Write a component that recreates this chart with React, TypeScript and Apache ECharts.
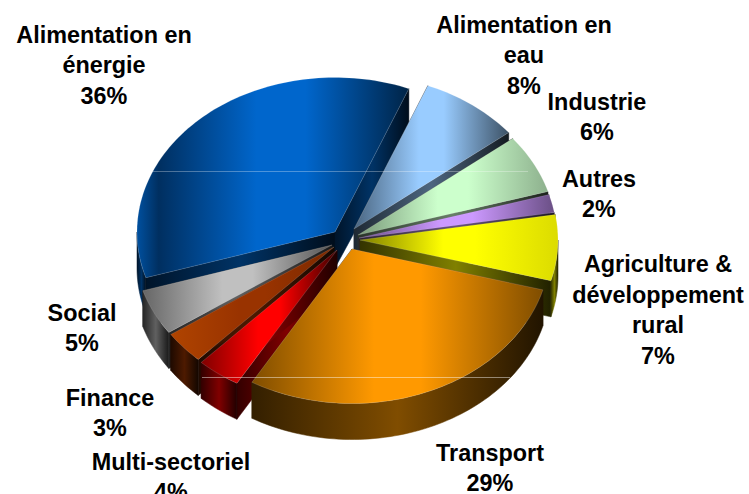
import React, { useEffect, useRef } from "react";
import * as echarts from "echarts";

// Clockwise from the start angle of the pie
const categories = [
  "Alimentation en\neau",
  "Industrie",
  "Autres",
  "Agriculture &\ndéveloppement\nrural",
  "Transport",
  "Multi-sectoriel",
  "Finance",
  "Social",
  "Alimentation en\nénergie",
];
const shares = [8.2, 6.2, 1.9, 6.9, 29.2, 3.6, 3.4, 4.8, 35.9];
const baseColors = ["#99CCFF", "#CCFFCC", "#CC99FF", "#FFFF00", "#FF9900", "#FF0000", "#993300", "#C0C0C0", "#0066CC"];

// Drawing set-up (not data)
const START_ANGLE = 21.9;
const RX = 198;
const RY = 154.5;
const DEPTH = 36;
const paintOrder = [8, 0, 1, 2, 3, 7, 6, 5, 4];
const sliceOrigins: number[][] = [
  [354, 229], [358, 235], [359, 238], [360, 240], [352, 249], [337, 250], [334, 247], [332, 245], [335, 232],
];
const labelCenters: number[][] = [
  [524, 55], [597, 117], [599, 194], [658, 310], [490, 468], [171, 477], [110, 413], [82, 328], [104, 65],
];
const topEnds: string[][] = [
  ["#4a6580", "#3d5266"], ["#7a9a7a", "#8db08d"], ["#6b4f8a", "#6a4f85"], ["#808000", "#dcdc00"],
  ["#7f4d00", "#7f4d00"], ["#800000", "#400000"], ["#b04400", "#7a2900"], ["#666666", "#555555"], ["#002f60", "#002447"],
];

const total = shares.reduce((a, b) => a + b, 0);
const rad = (d: number) => (d * Math.PI) / 180;

function shade(hex: string, f: number) {
  const n = parseInt(hex.slice(1), 16);
  const c = [(n >> 16) & 255, (n >> 8) & 255, n & 255].map((v) => Math.round(v * f));
  return `rgb(${c[0]},${c[1]},${c[2]})`;
}
function sliceAngles(i: number) {
  let a = START_ANGLE;
  for (let k = 0; k < i; k++) a += (360 * shares[k]) / total;
  return [a, a + (360 * shares[i]) / total];
}
const depthAt = (y: number) => DEPTH + Math.max(0, 232 - y) * 0.055;
const drop = (p: number[]) => [p[0], p[1] + depthAt(p[1])];

function arcPoints(o: number[], a0: number, a1: number) {
  const out: number[][] = [];
  const n = Math.max(2, Math.ceil((a1 - a0) / 1.5));
  for (let s = 0; s <= n; s++) {
    const a = rad(a0 + ((a1 - a0) * s) / n);
    out.push([o[0] + RX * Math.sin(a), o[1] - RY * Math.cos(a)]);
  }
  return out;
}
function grad(points: number[][], stops: [number, string][]) {
  const xs = points.map((p) => p[0]);
  return new echarts.graphic.LinearGradient(
    Math.min(...xs), 0, Math.max(...xs), 0,
    stops.map(([offset, color]) => ({ offset, color })),
    true
  );
}
function wall(points: number[][], base: string) {
  const fill = grad(points, [[0, shade(base, 0.2)], [0.5, shade(base, 0.5)], [1, shade(base, 0.13)]]);
  return { type: "polygon", shape: { points }, style: { fill, stroke: fill, lineWidth: 0.5 } };
}

function renderItem(_params: any, api: any) {
  const i = api.value(0);
  const o = sliceOrigins[i];
  const [a0, a1] = sliceAngles(i);
  const base = baseColors[i];
  const arc = arcPoints(o, a0, a1);
  const first = arc[0];
  const last = arc[arc.length - 1];
  const children: any[] = [];

  children.push(wall([o, first, drop(first), drop(o)], base));
  children.push(wall([o, last, drop(last), drop(o)], base));

  const v0 = Math.max(a0, 90);
  const v1 = Math.min(a1, 270);
  if (v1 > v0) {
    const rim = arcPoints(o, v0, v1);
    children.push(wall([...rim, ...rim.slice().reverse().map(drop)], base));
  }

  const top = [o, ...arc];
  const stops: [number, string][] =
    i === 8
      ? [[0, "#00509f"], [0.08, topEnds[i][0]], [0.44, base], [0.62, base], [1, topEnds[i][1]]]
      : [[0, topEnds[i][0]], [0.42, base], [0.58, base], [1, topEnds[i][1]]];
  children.push({
    type: "polygon",
    shape: { points: top },
    style: { fill: grad(top, stops), stroke: "rgba(255,255,255,0.25)", lineWidth: 0.6 },
  });

  children.push({
    type: "text",
    x: labelCenters[i][0],
    y: labelCenters[i][1],
    z2: 50,
    style: {
      text: `${categories[i]}\n${Math.round(shares[i])}%`,
      fontFamily: "'Liberation Sans', Arial, sans-serif",
      fontWeight: "bold",
      fontSize: 23.4,
      lineHeight: 30.5,
      fill: "#000000",
      textAlign: "center",
      textVerticalAlign: "middle",
    },
  });
  return { type: "group", children };
}

export default function App() {
  const ref = useRef<HTMLDivElement>(null);
  useEffect(() => {
    const chart = echarts.init(ref.current!, null, { renderer: "svg" });
    chart.setOption({
      animation: false,
      backgroundColor: "#ffffff",
      series: [
        {
          type: "custom",
          coordinateSystem: "none",
          silent: true,
          clip: false,
          renderItem,
          data: paintOrder.map((i) => [i, shares[i]]),
        },
      ],
      graphic: [
        { type: "line", z: 100, silent: true, shape: { x1: 153, y1: 171.5, x2: 528, y2: 171.5 }, style: { stroke: "rgba(255,255,255,0.3)", lineWidth: 1 } },
        { type: "line", z: 100, silent: true, shape: { x1: 202, y1: 377.5, x2: 510, y2: 377.5 }, style: { stroke: "rgba(255,255,255,0.45)", lineWidth: 1 } },
      ],
    });
    return () => chart.dispose();
  }, []);
  return <div ref={ref} style={{ position: "fixed", left: 0, top: 0, width: 749, height: 494 }} />;
}
